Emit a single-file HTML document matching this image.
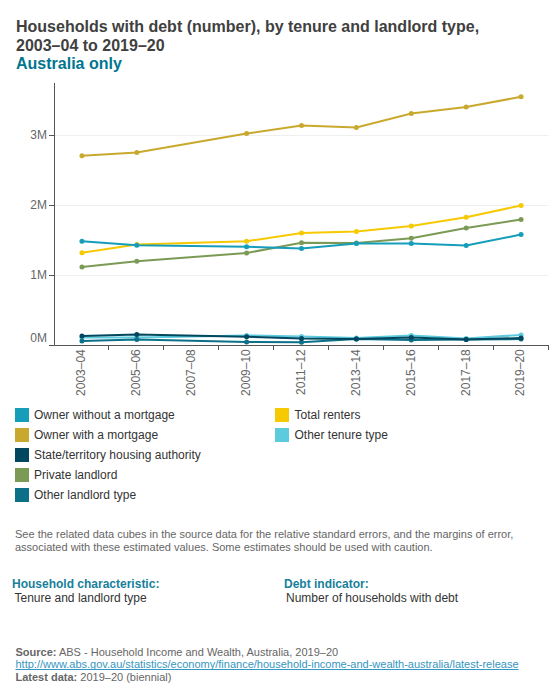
<!DOCTYPE html>
<html><head><meta charset="utf-8">
<style>
html,body{margin:0;padding:0;background:#fff;}
body{width:560px;height:700px;position:relative;overflow:hidden;font-family:"Liberation Sans",sans-serif;}
svg text{font-family:"Liberation Sans",sans-serif;}
.t{position:absolute;white-space:nowrap;}
.title{left:16px;font-size:16px;font-weight:bold;color:#404040;line-height:18.4px;}
.sub{color:#007690;}
.sw{position:absolute;width:14px;height:14px;}
.lt{position:absolute;font-size:12px;color:#333;line-height:16px;white-space:nowrap;}
.note{left:15px;font-size:11px;color:#666;line-height:12.65px;}
.hk{font-size:12px;font-weight:bold;color:#17809a;line-height:14px;}
.hv{font-size:12px;color:#333;line-height:14px;}
.src{left:15.5px;font-size:11px;color:#666;line-height:12.65px;}
.src b{color:#666;}
.src a{color:#3596c2;text-decoration:underline;text-decoration-skip-ink:none;}
</style></head><body>
<div class="t title" style="top:18px">Households with debt (number), by tenure and landlord type,</div>
<div class="t title" style="top:37px">2003–04 to 2019–20</div>
<div class="t title sub" style="top:55px">Australia only</div>
<svg width="560" height="400" xmlns="http://www.w3.org/2000/svg" style="position:absolute;left:0;top:0">
<line x1="54.5" x2="548.5" y1="135.5" y2="135.5" stroke="#efefef" stroke-width="1"/>
<line x1="54.5" x2="548.5" y1="205.5" y2="205.5" stroke="#efefef" stroke-width="1"/>
<line x1="54.5" x2="548.5" y1="275.5" y2="275.5" stroke="#efefef" stroke-width="1"/>
<line x1="54.5" x2="54.5" y1="83" y2="345.5" stroke="#555" stroke-width="1"/>
<line x1="49" x2="54.5" y1="135.5" y2="135.5" stroke="#555" stroke-width="1"/>
<text x="47" y="139" text-anchor="end" font-size="12" fill="#666">3M</text>
<line x1="49" x2="54.5" y1="205.5" y2="205.5" stroke="#555" stroke-width="1"/>
<text x="47" y="209" text-anchor="end" font-size="12" fill="#666">2M</text>
<line x1="49" x2="54.5" y1="275.5" y2="275.5" stroke="#555" stroke-width="1"/>
<text x="47" y="279" text-anchor="end" font-size="12" fill="#666">1M</text>
<line x1="49" x2="54.5" y1="345.5" y2="345.5" stroke="#555" stroke-width="1"/>
<text x="47" y="342" text-anchor="end" font-size="12" fill="#666">0M</text>
<line x1="54.5" x2="548.5" y1="345.5" y2="345.5" stroke="#555" stroke-width="1"/>
<line x1="108.50" x2="108.50" y1="345" y2="350" stroke="#555" stroke-width="1"/>
<line x1="163.50" x2="163.50" y1="345" y2="350" stroke="#555" stroke-width="1"/>
<line x1="218.50" x2="218.50" y1="345" y2="350" stroke="#555" stroke-width="1"/>
<line x1="273.50" x2="273.50" y1="345" y2="350" stroke="#555" stroke-width="1"/>
<line x1="328.50" x2="328.50" y1="345" y2="350" stroke="#555" stroke-width="1"/>
<line x1="383.50" x2="383.50" y1="345" y2="350" stroke="#555" stroke-width="1"/>
<line x1="438.50" x2="438.50" y1="345" y2="350" stroke="#555" stroke-width="1"/>
<line x1="493.50" x2="493.50" y1="345" y2="350" stroke="#555" stroke-width="1"/>
<line x1="548.50" x2="548.50" y1="345" y2="350" stroke="#555" stroke-width="1"/>
<text transform="translate(85.34,349.2) rotate(-90)" text-anchor="end" font-size="12" fill="#666">2003–04</text>
<text transform="translate(140.23,349.2) rotate(-90)" text-anchor="end" font-size="12" fill="#666">2005–06</text>
<text transform="translate(195.12,349.2) rotate(-90)" text-anchor="end" font-size="12" fill="#666">2007–08</text>
<text transform="translate(250.01,349.2) rotate(-90)" text-anchor="end" font-size="12" fill="#666">2009–10</text>
<text transform="translate(304.90,349.2) rotate(-90)" text-anchor="end" font-size="12" fill="#666">2011–12</text>
<text transform="translate(359.79,349.2) rotate(-90)" text-anchor="end" font-size="12" fill="#666">2013–14</text>
<text transform="translate(414.68,349.2) rotate(-90)" text-anchor="end" font-size="12" fill="#666">2015–16</text>
<text transform="translate(469.57,349.2) rotate(-90)" text-anchor="end" font-size="12" fill="#666">2017–18</text>
<text transform="translate(524.46,349.2) rotate(-90)" text-anchor="end" font-size="12" fill="#666">2019–20</text>
<path d="M81.94,337.50 L136.83,337.40 L246.61,335.40 L301.50,336.50 L356.39,338.00 L411.28,335.40 L466.17,338.50 L521.06,334.90" fill="none" stroke="#5ccbde" stroke-width="2"/>
<circle cx="81.94" cy="337.50" r="2.5" fill="#5ccbde"/>
<circle cx="136.83" cy="337.40" r="2.5" fill="#5ccbde"/>
<circle cx="246.61" cy="335.40" r="2.5" fill="#5ccbde"/>
<circle cx="301.50" cy="336.50" r="2.5" fill="#5ccbde"/>
<circle cx="356.39" cy="338.00" r="2.5" fill="#5ccbde"/>
<circle cx="411.28" cy="335.40" r="2.5" fill="#5ccbde"/>
<circle cx="466.17" cy="338.50" r="2.5" fill="#5ccbde"/>
<circle cx="521.06" cy="334.90" r="2.5" fill="#5ccbde"/>
<path d="M81.94,252.70 L136.83,244.50 L246.61,241.25 L301.50,233.00 L356.39,231.50 L411.28,226.10 L466.17,217.30 L521.06,205.50" fill="none" stroke="#f6c900" stroke-width="2"/>
<circle cx="81.94" cy="252.70" r="2.5" fill="#f6c900"/>
<circle cx="136.83" cy="244.50" r="2.5" fill="#f6c900"/>
<circle cx="246.61" cy="241.25" r="2.5" fill="#f6c900"/>
<circle cx="301.50" cy="233.00" r="2.5" fill="#f6c900"/>
<circle cx="356.39" cy="231.50" r="2.5" fill="#f6c900"/>
<circle cx="411.28" cy="226.10" r="2.5" fill="#f6c900"/>
<circle cx="466.17" cy="217.30" r="2.5" fill="#f6c900"/>
<circle cx="521.06" cy="205.50" r="2.5" fill="#f6c900"/>
<path d="M81.94,340.90 L136.83,339.50 L246.61,341.90 L301.50,342.20 L356.39,339.00 L411.28,340.10 L466.17,339.40 L521.06,339.10" fill="none" stroke="#0d7089" stroke-width="2"/>
<circle cx="81.94" cy="340.90" r="2.5" fill="#0d7089"/>
<circle cx="136.83" cy="339.50" r="2.5" fill="#0d7089"/>
<circle cx="246.61" cy="341.90" r="2.5" fill="#0d7089"/>
<circle cx="301.50" cy="342.20" r="2.5" fill="#0d7089"/>
<circle cx="356.39" cy="339.00" r="2.5" fill="#0d7089"/>
<circle cx="411.28" cy="340.10" r="2.5" fill="#0d7089"/>
<circle cx="466.17" cy="339.40" r="2.5" fill="#0d7089"/>
<circle cx="521.06" cy="339.10" r="2.5" fill="#0d7089"/>
<path d="M81.94,267.00 L136.83,261.25 L246.61,253.00 L301.50,242.70 L356.39,242.90 L411.28,238.20 L466.17,228.00 L521.06,219.50" fill="none" stroke="#7b9a56" stroke-width="2"/>
<circle cx="81.94" cy="267.00" r="2.5" fill="#7b9a56"/>
<circle cx="136.83" cy="261.25" r="2.5" fill="#7b9a56"/>
<circle cx="246.61" cy="253.00" r="2.5" fill="#7b9a56"/>
<circle cx="301.50" cy="242.70" r="2.5" fill="#7b9a56"/>
<circle cx="356.39" cy="242.90" r="2.5" fill="#7b9a56"/>
<circle cx="411.28" cy="238.20" r="2.5" fill="#7b9a56"/>
<circle cx="466.17" cy="228.00" r="2.5" fill="#7b9a56"/>
<circle cx="521.06" cy="219.50" r="2.5" fill="#7b9a56"/>
<path d="M81.94,336.00 L136.83,334.50 L246.61,336.70 L301.50,338.60 L356.39,339.00 L411.28,337.60 L466.17,339.40 L521.06,338.10" fill="none" stroke="#00475f" stroke-width="2"/>
<circle cx="81.94" cy="336.00" r="2.5" fill="#00475f"/>
<circle cx="136.83" cy="334.50" r="2.5" fill="#00475f"/>
<circle cx="246.61" cy="336.70" r="2.5" fill="#00475f"/>
<circle cx="301.50" cy="338.60" r="2.5" fill="#00475f"/>
<circle cx="356.39" cy="339.00" r="2.5" fill="#00475f"/>
<circle cx="411.28" cy="337.60" r="2.5" fill="#00475f"/>
<circle cx="466.17" cy="339.40" r="2.5" fill="#00475f"/>
<circle cx="521.06" cy="338.10" r="2.5" fill="#00475f"/>
<path d="M81.94,155.70 L136.83,152.50 L246.61,133.60 L301.50,125.50 L356.39,127.40 L411.28,113.60 L466.17,107.10 L521.06,96.80" fill="none" stroke="#c9a92d" stroke-width="2"/>
<circle cx="81.94" cy="155.70" r="2.5" fill="#c9a92d"/>
<circle cx="136.83" cy="152.50" r="2.5" fill="#c9a92d"/>
<circle cx="246.61" cy="133.60" r="2.5" fill="#c9a92d"/>
<circle cx="301.50" cy="125.50" r="2.5" fill="#c9a92d"/>
<circle cx="356.39" cy="127.40" r="2.5" fill="#c9a92d"/>
<circle cx="411.28" cy="113.60" r="2.5" fill="#c9a92d"/>
<circle cx="466.17" cy="107.10" r="2.5" fill="#c9a92d"/>
<circle cx="521.06" cy="96.80" r="2.5" fill="#c9a92d"/>
<path d="M81.94,241.25 L136.83,245.20 L246.61,246.80 L301.50,248.60 L356.39,243.40 L411.28,243.60 L466.17,245.50 L521.06,234.60" fill="none" stroke="#159db9" stroke-width="2"/>
<circle cx="81.94" cy="241.25" r="2.5" fill="#159db9"/>
<circle cx="136.83" cy="245.20" r="2.5" fill="#159db9"/>
<circle cx="246.61" cy="246.80" r="2.5" fill="#159db9"/>
<circle cx="301.50" cy="248.60" r="2.5" fill="#159db9"/>
<circle cx="356.39" cy="243.40" r="2.5" fill="#159db9"/>
<circle cx="411.28" cy="243.60" r="2.5" fill="#159db9"/>
<circle cx="466.17" cy="245.50" r="2.5" fill="#159db9"/>
<circle cx="521.06" cy="234.60" r="2.5" fill="#159db9"/>
</svg>
<div class="sw" style="left:15px;top:408px;background:#159db9"></div><div class="lt" style="left:34px;top:407px">Owner without a mortgage</div>
<div class="sw" style="left:15px;top:428px;background:#c9a92d"></div><div class="lt" style="left:34px;top:427px">Owner with a mortgage</div>
<div class="sw" style="left:15px;top:448px;background:#00475f"></div><div class="lt" style="left:34px;top:447px">State/territory housing authority</div>
<div class="sw" style="left:15px;top:468px;background:#7b9a56"></div><div class="lt" style="left:34px;top:467px">Private landlord</div>
<div class="sw" style="left:15px;top:488px;background:#0d7089"></div><div class="lt" style="left:34px;top:487px">Other landlord type</div>
<div class="sw" style="left:275px;top:408px;background:#f6c900"></div><div class="lt" style="left:294.5px;top:407px">Total renters</div>
<div class="sw" style="left:275px;top:428px;background:#5ccbde"></div><div class="lt" style="left:294.5px;top:427px">Other tenure type</div>
<div class="t note" style="top:528px">See the related data cubes in the source data for the relative standard errors, and the margins of error,</div>
<div class="t note" style="top:541px">associated with these estimated values. Some estimates should be used with caution.</div>
<div class="t hk" style="left:12px;top:577px">Household characteristic:</div>
<div class="t hv" style="left:14.5px;top:591px">Tenure and landlord type</div>
<div class="t hk" style="left:284px;top:577px">Debt indicator:</div>
<div class="t hv" style="left:286px;top:591px">Number of households with debt</div>
<div class="t src" style="top:645.5px"><b>Source:</b> ABS - Household Income and Wealth, Australia, 2019–20</div>
<div class="t src" style="top:658.1px"><a>http://www.abs.gov.au/statistics/economy/finance/household-income-and-wealth-australia/latest-release</a></div>
<div class="t src" style="top:670.7px"><b>Latest data:</b> 2019–20 (biennial)</div>
</body></html>
